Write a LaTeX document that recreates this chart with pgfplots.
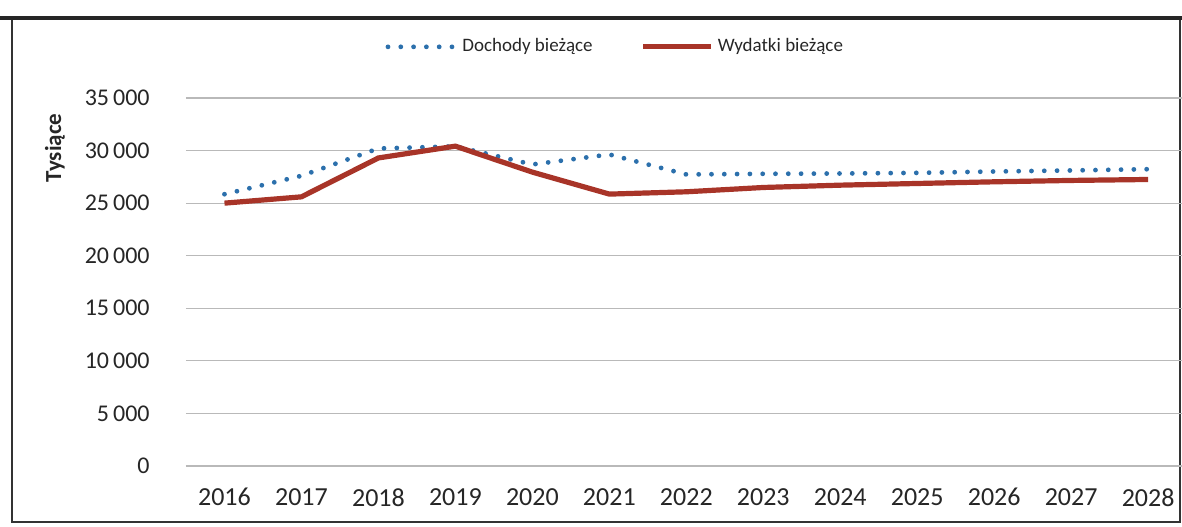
\documentclass[border=0pt]{standalone}
\usepackage{pgfplots}
\pgfplotsset{compat=1.18}
\usepackage{fontspec}
\setmainfont{Carlito}
\definecolor{doch}{RGB}{44,112,172}
\definecolor{wyd}{RGB}{168,52,40}
\begin{document}
\begin{tikzpicture}
\useasboundingbox (-93pt,-30pt) rectangle (498pt,233pt);
\draw[line width=0.8pt, black!80] (-87pt,-28pt) rectangle (497pt,224pt);
\draw[line width=1.6pt, black!85] (-93pt,224pt) -- (498pt,224pt);
\begin{axis}[
  at={(0pt,0pt)}, anchor=south west,
  scale only axis,
  width=498pt, height=184pt,
  xmin=-0.5, xmax=12.44,
  ymin=0, ymax=35000,
  ytick={0,5000,10000,15000,20000,25000,30000,35000},
  xtick={0,...,12},
  xticklabels={2016,2017,2018,2019,2020,2021,2022,2023,2024,2025,2026,2027,2028},
  axis line style={draw=none},
  major tick length=0pt,
  ymajorgrids,
  grid style={gray!55, line width=0.6pt},
  /pgf/number format/assume math mode=true,
  /pgf/number format/.cd, 1000 sep={\,}, /pgfplots/.cd,
  scaled y ticks=false,
  yticklabel style={anchor=east, inner sep=0pt, xshift=-18pt, font=\fontsize{12}{14}\selectfont, text=black!85},
  xticklabel style={anchor=north, inner sep=0pt, yshift=-11pt, font=\fontsize{13}{15}\selectfont, text=black!85},
  ylabel={Tysiące},
  ylabel style={at={(axis description cs:-0.1315,0.864)}, anchor=center, rotate=0, font=\bfseries\fontsize{11.5}{13}\selectfont, text=black!85},
  legend style={at={(axis description cs:0.432,1.139)}, anchor=center, draw=none, fill=none,
    legend columns=2, font=\fontsize{9.5}{11}\selectfont, text=black!85,
    /tikz/every even column/.append style={column sep=22pt}},
  legend image code/.code={\draw[#1] (0pt,0pt) -- (34pt,0pt);},
  clip=false,
]
\addplot[doch, line width=2.4pt, line cap=round, dash pattern=on 0pt off 6.4pt] coordinates {
(0,25850) (1,27600) (2,30200) (3,30400) (4,28680) (5,29630) (6,27730)
(7,27790) (8,27820) (9,27880) (10,28010) (11,28110) (12,28230)};
\addlegendentry{Dochody bieżące}
\addplot[wyd, line width=2.6pt] coordinates {
(0,25000) (1,25600) (2,29300) (3,30420) (4,27950) (5,25860) (6,26080)
(7,26490) (8,26710) (9,26870) (10,27030) (11,27160) (12,27250)};
\addlegendentry{Wydatki bieżące}
\draw[gray!55, line width=0.6pt] (axis cs:-0.5,0) -- (axis cs:12.44,0);
\end{axis}
\end{tikzpicture}
\end{document}
